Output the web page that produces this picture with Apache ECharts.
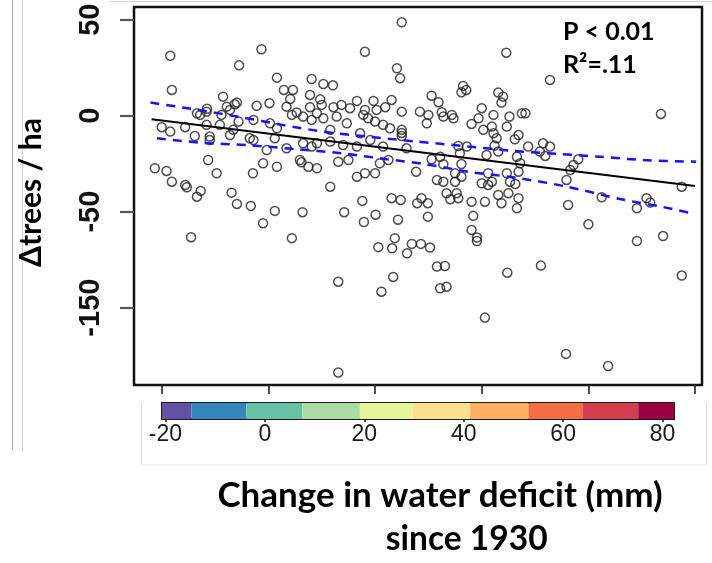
<!DOCTYPE html>
<html><head><meta charset="utf-8">
<script src="https://cdn.jsdelivr.net/npm/echarts@6/dist/echarts.min.js"></script>
<style>html,body{margin:0;padding:0;background:#fff}#c{width:712px;height:563px}</style>
</head><body><div id="c"></div>
<script>
// Change in water deficit (mm) since 1930 — x values of the points
const deficit = [
25.0,-18.4,-1.3,18.1,-5.5,24.1,24.7,1.6,8.1,10.3,12.1,-18.1,2.9,4.6,7.8,-8.5,4.1,9.7,-5.9,-6.3,
0.2,-2.2,-7.8,-11.5,3.4,10.0,12.2,13.7,16.6,19.7,23.1,21.9,25.0,28.4,-13.4,-11.6,-8.8,-7.2,5.3,7.8,
9.1,15.3,18.1,20.3,29.7,-20.0,-18.4,-15.6,-11.6,-13.8,-11.0,-9.1,-6.6,-5.6,-2.8,0.3,1.6,4.4,6.5,8.1,
10.3,12.8,14.7,17.8,18.7,20.0,21.5,22.8,25.0,25.0,25.0,17.2,11.6,-11.0,-2.8,1.2,3.4,6.5,9.1,8.1,
11.6,14.0,16.6,19.1,21.5,25.9,-0.3,-3.5,-7.2,-11.3,-21.3,-19.1,-18.1,-15.6,-15.3,-12.7,-13.4,-9.7,-6.9,-2.9,
-1.0,1.6,5.9,6.2,7.5,9.1,11.6,13.1,15.0,16.6,18.1,20.0,20.9,22.5,27.7,-12.8,
-5.9,-3.3,1.2,-1.0,6.4,14.2,17.6,17.9,20.1,23.1,24.8,24.3,27.9,28.7,29.9,29.9,-14.5,4.4,23.7,20.6,
23.2,26.0,26.9,28.6,30.3,13.1,23.4,21.2,13.1,
33.4,35.3,34.1,35.6,38.1,40.6,43.1,45.0,43.7,46.9,46.6,56.2,62.5,70.9,71.6,69.1,77.5,38.4,60.0,38.1,
39.1,39.1,69.1,74.0,31.6,33.1,44.8,51.1,77.5,32.2,33.4,40.6,55.8,63.7,46.3,
44.6,52.8,73.6,30.6,31.9,36.5,37.1,36.2,43.1,44.0,43.7,30.0,32.5,32.8,34.4,34.7,40.0,39.4,38.1,40.3,
42.2,41.9,42.2,42.8,44.7,45.2,47.5,48.2,46.9,46.2,35.6,37.2,35.9,48.7,51.5,52.8,50.9,51.9,42.4,43.1,
40.9,30.6,32.2,32.8,36.2,35.0,36.2,35.0,31.6,32.8,41.2,41.9,40.0,41.2,44.7,45.3,46.9,47.2,46.6,57.2,
56.6,55.9,58.1
];
// Δtrees / ha — y values of the points (axis units, "-150" label sits at -100)
const dTrees = [
48.6,31.2,34.6,33.3,26.2,24.7,19.5,19.8,19.1,16.5,15.8,13.4,13.4,13.4,10.8,9.9,8.7,8.5,6.8,5.9,
6.5,5.1,4.7,3.6,4.7,5.6,4.4,5.6,7.7,7.7,8.2,4.4,2.1,2.1,1.2,2.1,0.4,3.0,1.6,4.4,
1.2,3.9,3.0,3.0,-4.0,-6.0,-8.3,-6.0,-4.8,-10.6,-10.9,-4.8,-7.4,-3.1,-2.2,-4.0,-6.6,0.4,-0.5,-2.2,
-1.4,-0.5,-4.0,0.4,-1.4,-3.1,-4.8,-6.6,-7.4,-9.0,-10.6,-9.2,-7.4,-12.7,-12.7,-11.8,-17.0,-14.4,-14.4,-16.1,
-13.5,-15.3,-16.1,-12.7,-16.1,-17.0,-17.9,-11.8,-10.1,-23.1,-27.4,-28.8,-34.4,-36.1,-37.3,-39.2,-42.2,-30.0,-40.1,-30.0,
-24.8,-26.6,-23.1,-24.3,-26.6,-27.4,-37.0,-24.0,-23.1,-31.8,-30.0,-30.0,-24.8,-23.1,-29.2,0.4,
-46.0,-47.0,-49.6,-56.0,-50.3,-50.3,-44.4,-55.4,-51.6,-43.0,-43.9,-54.2,-45.6,-43.0,-45.6,-52.6,-63.3,-63.8,-63.8,-68.5,
-69.1,-71.7,-66.8,-66.8,-68.7,-86.5,-84.0,-91.7,-133.8,
-40.4,-40.4,-43.5,-43.0,-44.8,-44.8,-41.3,-40.4,-45.6,-43.0,-48.2,-46.5,-42.5,-43.0,-45.3,-48.2,-37.0,-52.2,-56.6,-59.5,
-63.5,-65.3,-65.3,-62.7,-78.6,-78.3,-81.8,-78.1,-83.3,-89.9,-89.1,-105.2,-124.1,-130.4,-35.6,
32.8,18.6,0.9,10.4,7.0,15.5,13.4,12.2,12.0,9.9,6.8,0.4,1.8,-0.5,0.4,-1.4,3.9,-1.4,-4.3,-7.4,
0.4,-5.7,-9.2,-11.8,-5.7,-0.5,1.2,1.2,-10.1,-12.3,-15.8,-16.1,-19.6,-16.1,-14.4,-16.1,-18.7,-21.0,-15.6,-18.7,
-20.5,-22.7,-21.4,-25.3,-25.2,-30.0,-31.8,-34.4,-33.5,-34.4,-30.0,-34.4,-35.2,-36.1,-30.0,-34.4,-29.2,-24.8,-21.4,-25.7,
-28.3,-33.5,-22.7
];
// regression line and 95% band
const fitX = [-21.9, 80.0];
const fitY = [-1.9, -36.6];
const upperX = [-22.1,-13.2,-5.3,2.6,10.2,18.5,27.9,36.5,45.3,54.1,62.2,70.3,80.2];
const upperY = [6.8,3.0,-0.7,-4.8,-8.3,-10.9,-13.5,-15.8,-18.2,-19.9,-21.4,-23.1,-24.0];
const lowerX = [-20.9,-12.5,-4.1,4.6,13.8,22.2,29.4,37.4,46.6,56.0,65.9,74.0,79.1];
const lowerY = [-11.8,-14.1,-15.3,-17.3,-19.6,-22.7,-25.2,-29.2,-32.4,-37.0,-43.4,-47.6,-50.7];
// axis ticks
const yTickValues = [50, 0, -50, -100];
const yTickLabels = ['50', '0', '-50', '-150'];
const xTickValues = [-20, 0, 20, 40, 60, 80];
// colour bar
const colorbarBreaks = [-20.7, -14.8, -3.7, 7.5, 19.1, 29.8, 41.3, 53.0, 64.0, 75.1, 82.3];
const colorbarColors = ['#6550a6','#3288bd','#66c2a5','#abdda4','#e6f598','#fee08b','#fdae61','#f46d43','#d53e4f','#9e0142'];
const colorbarTicks = [-20, 0, 20, 40, 60, 80];

const points = deficit.map((x, i) => [x, dTrees[i]]);
const pair = (xs, ys) => xs.map((x, i) => [x, ys[i]]);
const blocks = colorbarColors.map((c, i) => [colorbarBreaks[i], colorbarBreaks[i + 1], i]);

const chart = echarts.init(document.getElementById('c'), null, {renderer: 'canvas'});
const fam = 'Lato, "Open Sans", sans-serif';
const faint = (x1, y1, x2, y2, c) => ({type: 'line', silent: true, shape: {x1, y1, x2, y2}, style: {stroke: c, lineWidth: 1}});

chart.setOption({
  animation: false,
  backgroundColor: '#fff',
  grid: [
    {left: 134, top: 7, width: 568, height: 378, show: true, borderColor: '#111', borderWidth: 2.5, backgroundColor: 'transparent'},
    {left: 162, top: 403, width: 512, height: 16, show: true, borderColor: '#1a1a1a', borderWidth: 2, backgroundColor: 'transparent'}
  ],
  xAxis: [
    {type: 'value', gridIndex: 0, min: -25.2, max: 81.3, position: 'bottom',
     axisLine: {show: false, onZero: false}, splitLine: {show: false},
     axisTick: {show: true, customValues: xTickValues, length: 9, lineStyle: {color: '#222', width: 1.6}},
     axisLabel: {show: false}},
    {type: 'value', gridIndex: 1, min: -20.7, max: 82.3, position: 'bottom',
     axisLine: {show: false, onZero: false}, splitLine: {show: false},
     axisTick: {show: true, customValues: colorbarTicks, length: 3, lineStyle: {color: '#222', width: 1.5}},
     axisLabel: {show: true, customValues: colorbarTicks, margin: 4, fontSize: 23,
       fontFamily: '"Liberation Sans", Arial, sans-serif', color: '#1a1a1a'}}
  ],
  yAxis: [
    {type: 'value', gridIndex: 0, min: -140.3, max: 56.6, position: 'left',
     axisLine: {show: false, onZero: false}, splitLine: {show: false},
     axisTick: {show: true, customValues: yTickValues, length: 14, lineStyle: {color: '#555', width: 2.2}},
     axisLabel: {show: true, customValues: yTickValues, rotate: 90, margin: 29, fontSize: 29, fontWeight: 'bold',
       fontFamily: '"Liberation Sans", Arial, sans-serif', color: '#111',
       formatter: v => yTickLabels[yTickValues.indexOf(v)] ?? ''}},
    {type: 'value', gridIndex: 1, min: 0, max: 1, show: false}
  ],
  series: [
    {type: 'scatter', xAxisIndex: 0, yAxisIndex: 0, data: points, symbol: 'circle', symbolSize: 9, silent: true,
     itemStyle: {color: 'rgba(0,0,0,0)', borderColor: '#222', borderWidth: 1.5}, z: 2},
    {type: 'line', xAxisIndex: 0, yAxisIndex: 0, data: pair(upperX, upperY), showSymbol: false, silent: true, smooth: 0.3,
     lineStyle: {color: '#1414ff', width: 2.5, type: [9, 7]}, z: 3},
    {type: 'line', xAxisIndex: 0, yAxisIndex: 0, data: pair(lowerX, lowerY), showSymbol: false, silent: true, smooth: 0.3,
     lineStyle: {color: '#1414ff', width: 2.5, type: [9, 7]}, z: 3},
    {type: 'line', xAxisIndex: 0, yAxisIndex: 0, data: pair(fitX, fitY), showSymbol: false, silent: true,
     lineStyle: {color: '#000', width: 2}, z: 4},
    {type: 'custom', xAxisIndex: 1, yAxisIndex: 1, data: blocks, silent: true, z: 1,
     renderItem: (params, api) => {
       const p0 = api.coord([api.value(0), 1]);
       const p1 = api.coord([api.value(1), 0]);
       return {type: 'rect', shape: {x: p0[0], y: p0[1], width: p1[0] - p0[0], height: p1[1] - p0[1]},
               style: {fill: colorbarColors[api.value(2)]}};
     }}
  ],
  graphic: [
    faint(12.5, 0, 12.5, 450, '#b0b0b0'),
    faint(22.5, 0, 22.5, 450, '#d0d0d0'),
    faint(110, 1.5, 712, 1.5, '#d0d0d0'),
    faint(141.5, 403, 141.5, 465, '#e2e2e2'),
    faint(141.5, 465, 706.5, 465, '#e8e8e8'),
    faint(706.5, 403, 706.5, 465, '#e2e2e2'),
    {type: 'text', x: 31.7, y: 192.5, rotation: Math.PI / 2, silent: true,
     style: {text: 'Δtrees / ha', font: 'bold 30px ' + fam, fill: '#000', align: 'center', verticalAlign: 'middle'}},
    {type: 'text', x: 440, y: 496, silent: true,
     style: {text: 'Change in water deficit (mm)', font: 'bold 35px ' + fam, fill: '#000', align: 'center', verticalAlign: 'middle'}},
    {type: 'text', x: 466.7, y: 539.5, silent: true,
     style: {text: 'since 1930', font: 'bold 33.5px ' + fam, fill: '#000', align: 'center', verticalAlign: 'middle'}},
    {type: 'text', x: 563, y: 31.5, silent: true,
     style: {text: 'P < 0.01', font: 'bold 25px ' + fam, fill: '#000', align: 'left', verticalAlign: 'middle'}},
    {type: 'text', x: 563, y: 64.5, silent: true,
     style: {text: 'R²=.11', font: 'bold 25px ' + fam, fill: '#000', align: 'left', verticalAlign: 'middle'}}
  ]
});
</script>
</body></html>
